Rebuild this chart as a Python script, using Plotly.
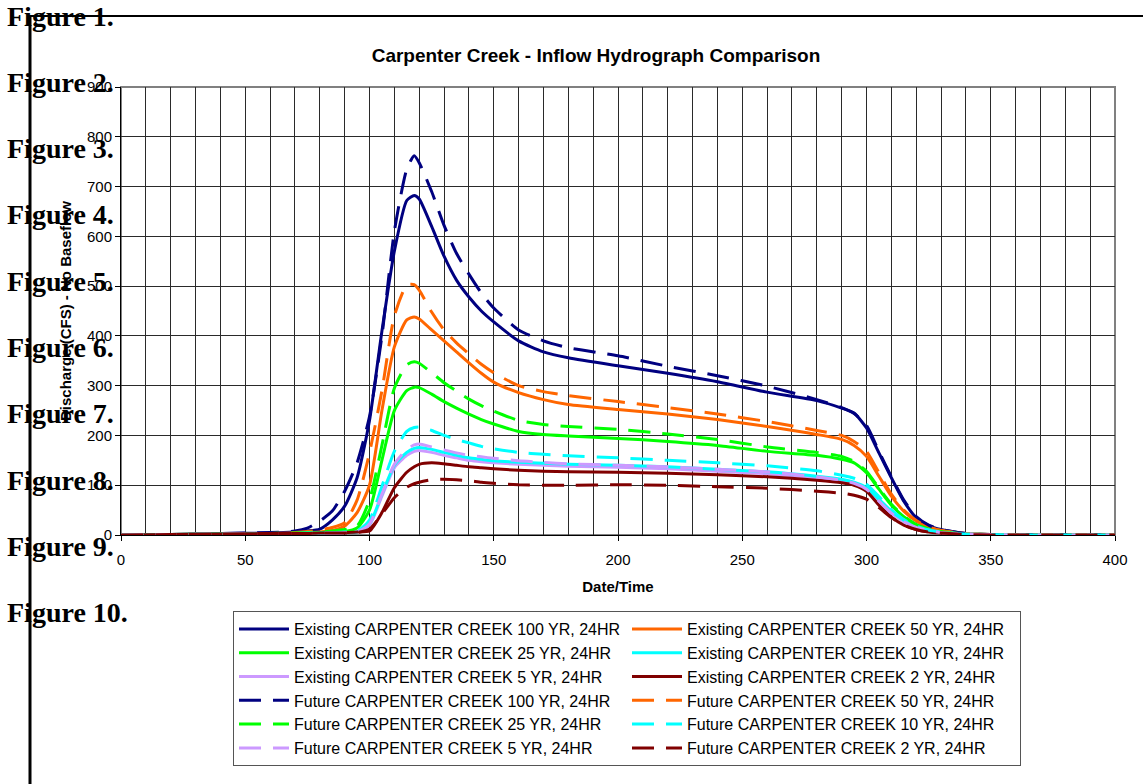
import plotly.graph_objects as go

# ---------------- data ----------------
time_pts = [0, 20, 40, 60, 70, 75, 80, 85, 90, 95, 100, 105, 110, 115, 118, 120, 125, 130,
            135, 140, 145, 150, 160, 170, 180, 200, 220, 240, 260, 280, 290, 295, 300, 305, 310,
            315, 320, 325, 330, 340, 350, 360, 400]

existing_100 = [0, 1, 3, 4, 6, 8, 12, 30, 58, 115, 230, 410, 570, 672, 682, 675, 620, 560,
                512, 478, 450, 428, 390, 368, 356, 340, 325, 308, 287, 270, 255, 245, 215, 165, 115,
                68, 35, 19, 11, 3, 1, 0, 0]
existing_50 = [0, 1, 2, 3, 4, 5, 6, 9, 18, 45, 100, 250, 378, 432, 438, 434, 412, 390,
               368, 346, 325, 307, 286, 272, 262, 252, 243, 232, 218, 202, 192, 180, 158, 118, 78,
               48, 28, 16, 9, 3, 1, 0, 0]
existing_25 = [0, 1, 2, 3, 3, 4, 5, 6, 7, 14, 50, 150, 250, 290, 297, 296, 283, 268,
               255, 243, 232, 223, 208, 202, 199, 194, 188, 180, 168, 160, 152, 145, 125, 92, 60,
               37, 21, 12, 7, 2, 1, 0, 0]
existing_10 = [0, 1, 2, 3, 3, 3, 4, 4, 5, 6, 22, 82, 140, 166, 174, 176, 172, 166,
               160, 155, 152, 149, 146, 144, 142, 140, 137, 132, 127, 118, 112, 106, 95, 72, 48,
               30, 17, 10, 6, 2, 1, 0, 0]
existing_5 = [0, 1, 2, 3, 3, 3, 4, 4, 5, 6, 20, 78, 135, 160, 168, 170, 166, 160,
              155, 150, 147, 145, 142, 140, 138, 136, 133, 128, 123, 115, 109, 103, 92, 68, 44,
              27, 15, 9, 5, 2, 1, 0, 0]
existing_2 = [0, 1, 2, 3, 3, 3, 4, 4, 5, 6, 8, 45, 95, 126, 137, 142, 145, 143,
              140, 137, 135, 133, 130, 128, 127, 126, 124, 121, 117, 110, 105, 100, 88, 60, 36,
              20, 11, 6, 4, 1, 0, 0, 0]

future_100 = [0, 1, 3, 5, 8, 14, 28, 48, 88, 145, 238, 400, 610, 735, 762, 748, 690, 622,
              566, 524, 486, 456, 412, 390, 376, 360, 339, 320, 299, 272, 256, 244, 220, 168, 117,
              70, 37, 20, 11, 3, 1, 0, 0]
future_50 = [0, 1, 2, 3, 5, 7, 10, 15, 25, 70, 165, 290, 440, 502, 503, 492, 448, 412,
             386, 364, 343, 326, 300, 288, 280, 268, 256, 243, 228, 210, 200, 188, 168, 125, 82,
             50, 29, 16, 9, 3, 1, 0, 0]
future_25 = [0, 1, 2, 3, 4, 5, 6, 8, 11, 18, 70, 180, 295, 342, 348, 345, 326, 306,
             289, 273, 260, 249, 230, 222, 218, 212, 203, 192, 177, 166, 158, 148, 128, 94, 62,
             38, 21, 12, 7, 2, 1, 0, 0]
future_10 = [0, 1, 2, 3, 3, 4, 4, 5, 6, 8, 30, 98, 168, 208, 216, 217, 210, 200,
             192, 185, 178, 173, 166, 162, 159, 155, 150, 145, 139, 129, 120, 114, 102, 77, 51,
             31, 18, 10, 6, 2, 1, 0, 0]
future_5 = [0, 1, 2, 3, 3, 3, 4, 4, 5, 6, 22, 82, 142, 172, 181, 183, 177, 171,
            165, 160, 157, 154, 149, 146, 143, 140, 137, 132, 127, 117, 110, 104, 92, 68, 44,
            27, 15, 9, 5, 2, 1, 0, 0]
future_2 = [0, 1, 2, 3, 3, 3, 4, 4, 4, 5, 12, 42, 75, 96, 103, 106, 111, 112,
            111, 109, 106, 104, 101, 100, 100, 101, 100, 97, 94, 88, 84, 80, 72, 55, 35,
            20, 11, 6, 4, 1, 0, 0, 0]

series_names = [
    "Existing CARPENTER CREEK 100 YR, 24HR", "Existing CARPENTER CREEK 50 YR, 24HR",
    "Existing CARPENTER CREEK 25 YR, 24HR", "Existing CARPENTER CREEK 10 YR, 24HR",
    "Existing CARPENTER CREEK 5 YR, 24HR", "Existing CARPENTER CREEK 2 YR, 24HR",
    "Future CARPENTER CREEK 100 YR, 24HR", "Future CARPENTER CREEK 50 YR, 24HR",
    "Future CARPENTER CREEK 25 YR, 24HR", "Future CARPENTER CREEK 10 YR, 24HR",
    "Future CARPENTER CREEK 5 YR, 24HR", "Future CARPENTER CREEK 2 YR, 24HR",
]
series_values = [existing_100, existing_50, existing_25, existing_10, existing_5, existing_2,
                 future_100, future_50, future_25, future_10, future_5, future_2]
series_colors = ["#000080", "#FF6600", "#00FF00", "#00FFFF", "#CC99FF", "#800000"] * 2
series_dash = ["solid"] * 6 + ["22px,12px"] * 6

figure_labels = ["Figure 1.", "Figure 2.", "Figure 3.", "Figure 4.", "Figure 5.",
                 "Figure 6.", "Figure 7.", "Figure 8.", "Figure 9.", "Figure 10."]

title_text = "Carpenter Creek - Inflow Hydrograph Comparison"
x_title = "Date/Time"
y_title = "Discharge (CFS) - No Baseflow"

# ---------------- layout geometry ----------------
W, H = 1143, 784
L, R, T, B = 121, 1115, 87, 535
PW, PH = R - L, B - T


def px_x(p):
    return (p - L) / PW


def px_y(p):
    return (B - p) / PH


SANS = "Arial, 'Liberation Sans', sans-serif"
SERIF = "'Times New Roman', 'Liberation Serif', serif"

fig = go.Figure()

# draw order: existing 5 yr first (it is hidden beneath the 10 yr line in the reference)
draw_order = [4, 0, 1, 2, 3, 5, 6, 7, 8, 9, 10, 11]
for i in draw_order:
    fig.add_trace(go.Scatter(
        x=time_pts, y=series_values[i], name=series_names[i], mode="lines",
        line=dict(color=series_colors[i], width=3, dash=series_dash[i],
                  shape="spline", smoothing=0.6),
        legendrank=100 + i * 10,
    ))

grid_col = "#2a2a2a"
fig.update_xaxes(
    range=[0, 400], tick0=0, dtick=50, showgrid=True, gridcolor=grid_col, gridwidth=1,
    minor=dict(dtick=10, showgrid=True, gridcolor=grid_col, gridwidth=1, ticklen=0),
    ticks="outside", ticklen=5, tickcolor="black", showline=True, linecolor="black",
    linewidth=1, zeroline=False, tickfont=dict(size=15, family=SANS, color="black"),
    ticklabelstandoff=6,
    title=dict(text="<b>" + x_title + "</b>", font=dict(size=15, family=SANS, color="black"),
               standoff=14),
)
fig.update_yaxes(
    range=[0, 900], tick0=0, dtick=100, showgrid=True, gridcolor=grid_col, gridwidth=1,
    ticks="outside", ticklen=5, tickcolor="black", showline=True, linecolor="black",
    linewidth=1, zeroline=False, tickfont=dict(size=15, family=SANS, color="black"),
    title=dict(text="<b>" + y_title + "</b>", font=dict(size=15, family=SANS, color="black"),
               standoff=11),
)

shapes = [
    # plot frame (top/right gray)
    dict(type="rect", xref="paper", yref="paper", x0=0, x1=1, y0=0, y1=1,
         line=dict(color="#808080", width=2), layer="below"),
    # page rules
    dict(type="line", xref="paper", yref="paper", x0=px_x(30), x1=px_x(1143),
         y0=px_y(16), y1=px_y(16), line=dict(color="black", width=2)),
    dict(type="line", xref="paper", yref="paper", x0=px_x(30), x1=px_x(30),
         y0=px_y(15), y1=px_y(784), line=dict(color="black", width=3)),
]

annotations = []
for n, lab in enumerate(figure_labels):
    annotations.append(dict(
        text="<b>" + lab + "</b>", xref="paper", yref="paper",
        x=px_x(5), y=px_y(16 + 66.3 * n), xanchor="left", yanchor="middle",
        showarrow=False, font=dict(family=SERIF, size=28, color="black"),
    ))

fig.update_layout(
    width=W, height=H, autosize=False,
    margin=dict(l=L, r=W - R, t=T, b=H - B, pad=0),
    paper_bgcolor="white", plot_bgcolor="white",
    font=dict(family=SANS, color="black"),
    title=dict(text="<b>" + title_text + "</b>", x=596 / W, xref="container", xanchor="center",
               y=1 - 55 / H, yref="container", yanchor="middle",
               font=dict(size=19, family=SANS, color="black")),
    legend=dict(orientation="h", x=px_x(233), xanchor="left", y=px_y(611), yanchor="top",
                bordercolor="#555555", borderwidth=1, bgcolor="white",
                font=dict(size=16, family=SANS, color="black"),
                itemwidth=50,
                entrywidth=328, entrywidthmode="pixels", traceorder="normal"),
    shapes=shapes, annotations=annotations, showlegend=True,
)

fig.write_html("out.html", config={"displayModeBar": False},
               post_script="document.body.style.margin='0';document.body.style.overflow='hidden';")
